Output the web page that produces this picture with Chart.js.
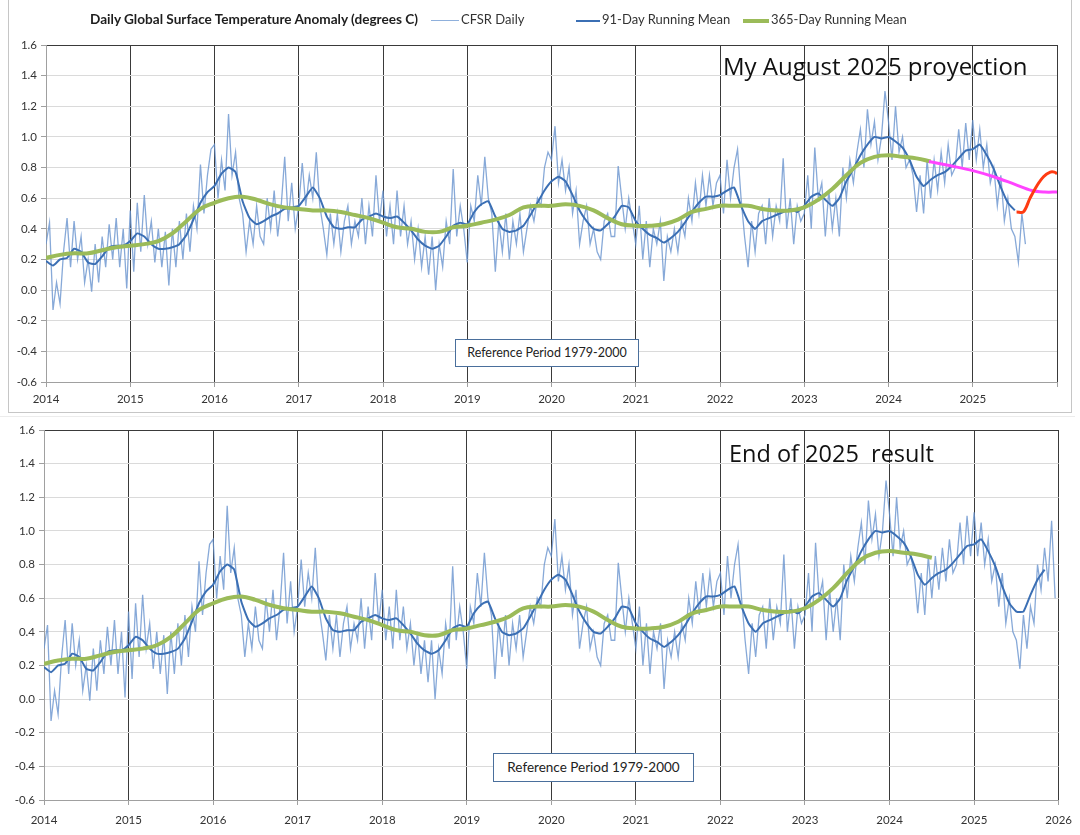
<!DOCTYPE html>
<html>
<head>
<meta charset="utf-8">
<script src="https://cdn.jsdelivr.net/npm/chart.js@4.4.1/dist/chart.umd.min.js"></script>
<style>
  body { margin: 0; background: #fff; width: 1080px; height: 835px; overflow: hidden; position: relative; font-family: Lato, "Open Sans", sans-serif; }
  .wrap { position: absolute; left: 0; width: 1080px; }
  #topFrame { position: absolute; left: 8px; top: -2px; width: 1062px; height: 413px; border: 1px solid #c6c6c6; }
  #bottomRule { position: absolute; left: 0; top: 416px; width: 1075px; height: 1px; background: #ececec; }
  .title { position: absolute; left: 90px; top: 11px; font-weight: bold; font-size: 13.6px; color: #1e1e1e; white-space: nowrap; }
  .legend { position: absolute; top: 11px; font-size: 13px; color: #333; white-space: nowrap; }
  .legend span.line { display: inline-block; vertical-align: middle; margin-right: 2px; }
  .note { position: absolute; font-family: "Open Sans", sans-serif; color: #111; white-space: pre; }
  .refbox { position: absolute; background: #fff; border: 1px solid #4a6f9c; font-size: 12.5px; color: #222; white-space: nowrap; text-align: center; }
</style>
</head>
<body>
<div id="topFrame"></div>
<div id="bottomRule"></div>
<div class="wrap" style="top:0;height:412px"><canvas id="topChart"></canvas></div>
<div class="wrap" style="top:418px;height:417px"><canvas id="bottomChart"></canvas></div>

<div class="title">Daily Global Surface Temperature Anomaly (degrees C)</div>
<div class="legend" style="left:431px"><span class="line" style="width:28px;height:1px;background:#8fb0dc"></span>CFSR Daily</div>
<div class="legend" style="left:576px"><span class="line" style="width:24px;height:2px;background:#3b6fb4"></span>91-Day Running Mean</div>
<div class="legend" style="left:743px"><span class="line" style="width:26px;height:4px;background:#9bbb59"></span>365-Day Running Mean</div>

<div class="note" style="left:723px;top:49px;font-size:24px">My August 2025 proyection</div>
<div class="note" style="left:729px;top:437px;font-size:23.5px">End of 2025  result</div>

<div class="refbox" style="left:455px;top:339px;width:182px;height:26px;line-height:26px">Reference Period 1979-2000</div>
<div class="refbox" style="left:493px;top:753px;width:199px;height:27px;line-height:27px;font-size:13.5px">Reference Period 1979-2000</div>

<script>
const START_YEAR = 2014;
const END_YEAR = 2026;

// CFSR daily anomaly, sampled twice a month (24 per year)
const dailyPerYear = 24;
const dailyValues = [
  0.30, 0.44, -0.13, 0.05, -0.09, 0.25, 0.47, 0.15, 0.45, 0.20, 0.35, 0.05, 0.20, -0.01, 0.30, 0.05, 0.35, 0.15, 0.43, 0.20, 0.47, 0.15, 0.40, 0.01, // 2014
  0.52, 0.12, 0.57, 0.25, 0.62, 0.30, 0.45, 0.18, 0.40, 0.15, 0.38, 0.03, 0.40, 0.15, 0.45, 0.20, 0.50, 0.25, 0.55, 0.40, 0.82, 0.50, 0.75, 0.92, // 2015
  0.95, 0.60, 0.85, 0.65, 1.15, 0.75, 0.90, 0.60, 0.50, 0.25, 0.45, 0.30, 0.55, 0.35, 0.30, 0.60, 0.40, 0.65, 0.35, 0.55, 0.87, 0.45, 0.70, 0.40, // 2016
  0.55, 0.83, 0.55, 0.75, 0.60, 0.90, 0.55, 0.40, 0.23, 0.50, 0.30, 0.50, 0.25, 0.45, 0.55, 0.30, 0.45, 0.35, 0.60, 0.30, 0.55, 0.35, 0.75, 0.45, // 2017
  0.65, 0.35, 0.55, 0.30, 0.65, 0.35, 0.55, 0.30, 0.45, 0.20, 0.40, 0.15, 0.35, 0.10, 0.35, 0.00, 0.30, 0.15, 0.45, 0.30, 0.79, 0.35, 0.55, 0.40, // 2018
  0.18, 0.55, 0.45, 0.75, 0.55, 0.87, 0.60, 0.50, 0.12, 0.45, 0.25, 0.50, 0.20, 0.45, 0.30, 0.50, 0.25, 0.40, 0.55, 0.45, 0.60, 0.55, 0.80, 0.90, // 2019
  0.85, 1.07, 0.70, 0.85, 0.65, 0.80, 0.50, 0.65, 0.30, 0.45, 0.55, 0.30, 0.40, 0.25, 0.20, 0.45, 0.50, 0.35, 0.35, 0.81, 0.60, 0.40, 0.60, 0.45, // 2020
  0.30, 0.55, 0.20, 0.45, 0.15, 0.40, 0.30, 0.45, 0.06, 0.35, 0.25, 0.40, 0.25, 0.45, 0.35, 0.60, 0.45, 0.70, 0.50, 0.75, 0.55, 0.75, 0.55, 0.70, // 2021
  0.75, 0.50, 0.85, 0.60, 0.80, 0.92, 0.60, 0.35, 0.15, 0.45, 0.25, 0.50, 0.55, 0.30, 0.60, 0.35, 0.55, 0.45, 0.86, 0.40, 0.60, 0.30, 0.55, 0.45, // 2022
  0.50, 0.75, 0.40, 0.93, 0.60, 0.70, 0.35, 0.65, 0.40, 0.60, 0.35, 0.80, 0.60, 0.85, 0.70, 0.90, 1.05, 0.80, 1.18, 0.95, 1.10, 0.85, 1.00, 1.30, // 2023
  1.10, 0.85, 1.20, 0.90, 1.00, 0.80, 0.85, 0.75, 0.51, 0.75, 0.50, 0.85, 0.60, 0.85, 0.65, 0.90, 0.70, 0.95, 0.75, 0.80, 1.05, 0.80, 1.09, 0.85, // 2024
  1.11, 0.85, 1.05, 0.80, 0.95, 0.70, 0.80, 0.55, 0.75, 0.45, 0.60, 0.40, 0.35, 0.18, 0.50, 0.30, 0.55, 0.45, 0.80, 0.65, 0.90, 0.70, 1.06, 0.60  // 2025
];
const topDailyCount = 280; // August 2025 cut-off

// 91-day running mean, monthly
const mean91PerYear = 12;
const mean91Values = [
  0.19, 0.16, 0.20, 0.21, 0.27, 0.25, 0.18, 0.17, 0.22, 0.28, 0.29, 0.29, // 2014
  0.32, 0.37, 0.35, 0.30, 0.27, 0.27, 0.28, 0.30, 0.36, 0.46, 0.57, 0.64, // 2015
  0.68, 0.76, 0.80, 0.77, 0.58, 0.47, 0.43, 0.45, 0.48, 0.50, 0.53, 0.54, // 2016
  0.55, 0.61, 0.67, 0.60, 0.48, 0.41, 0.40, 0.41, 0.41, 0.46, 0.48, 0.50, // 2017
  0.48, 0.47, 0.48, 0.44, 0.39, 0.33, 0.29, 0.27, 0.29, 0.35, 0.42, 0.44, // 2018
  0.43, 0.51, 0.56, 0.58, 0.48, 0.40, 0.38, 0.39, 0.42, 0.49, 0.57, 0.65, // 2019
  0.71, 0.74, 0.71, 0.62, 0.52, 0.45, 0.40, 0.39, 0.43, 0.48, 0.55, 0.54, // 2020
  0.45, 0.40, 0.36, 0.34, 0.31, 0.34, 0.38, 0.44, 0.51, 0.57, 0.61, 0.61, // 2021
  0.62, 0.65, 0.67, 0.55, 0.45, 0.40, 0.45, 0.47, 0.49, 0.51, 0.53, 0.51, // 2022
  0.55, 0.61, 0.63, 0.59, 0.55, 0.60, 0.71, 0.79, 0.88, 0.95, 1.00, 0.99, // 2023
  1.00, 0.97, 0.93, 0.85, 0.74, 0.68, 0.72, 0.75, 0.77, 0.81, 0.86, 0.91, // 2024
  0.92, 0.95, 0.88, 0.79, 0.67, 0.57, 0.52, 0.52, 0.62, 0.71, 0.77        // 2025
];
const topMean91Count = 139; // through mid 2025

// 365-day running mean, every two months
const mean365PerYear = 6;
const mean365Values = [
  0.21, 0.23, 0.24, 0.24, 0.26, 0.28, // 2014
  0.29, 0.30, 0.32, 0.37, 0.45, 0.53, // 2015
  0.57, 0.60, 0.61, 0.59, 0.56, 0.54, // 2016
  0.53, 0.52, 0.52, 0.51, 0.49, 0.47, // 2017
  0.44, 0.41, 0.40, 0.38, 0.38, 0.41, // 2018
  0.42, 0.44, 0.46, 0.49, 0.54, 0.55, // 2019
  0.55, 0.56, 0.55, 0.52, 0.47, 0.43, // 2020
  0.42, 0.42, 0.43, 0.46, 0.51, 0.53, // 2021
  0.55, 0.55, 0.55, 0.53, 0.52, 0.52, // 2022
  0.54, 0.59, 0.66, 0.75, 0.83, 0.87, // 2023
  0.88, 0.87, 0.86, 0.84              // 2024
];

// August 2025 projection (top panel only)
const proj91Years  = [2025.52, 2025.60, 2025.68, 2025.76, 2025.84, 2025.92, 2025.97, 2026.0];
const proj91Values = [0.51, 0.51, 0.60, 0.68, 0.74, 0.77, 0.77, 0.76];
const proj365Years  = [2024.48, 2024.75, 2025.0, 2025.25, 2025.5, 2025.7, 2025.85, 2026.0];
const proj365Values = [0.84, 0.81, 0.78, 0.74, 0.69, 0.65, 0.64, 0.64];

const yMin = -0.6, yMax = 1.6, yStep = 0.2;

function series(values, perYear) {
  return values.map((v, i) => ({ x: START_YEAR + i / perYear, y: v }));
}
function pairs(xs, ys) {
  return xs.map((x, i) => ({ x, y: ys[i] }));
}

const tickFont = { family: "Lato, 'Open Sans', sans-serif", size: 11.5 };

function baseDatasets(dailyCount, mean91Count) {
  return [
    { label: "365-Day Running Mean", data: series(mean365Values, mean365PerYear),
      borderColor: "#9bbb59", borderWidth: 4, tension: 0.4, order: 2 },
    { label: "91-Day Running Mean", data: series(mean91Values.slice(0, mean91Count), mean91PerYear),
      borderColor: "#3b6fb4", borderWidth: 2, tension: 0.15, order: 3 },
    { label: "CFSR Daily", data: series(dailyValues.slice(0, dailyCount), dailyPerYear),
      borderColor: "rgba(105,148,206,0.8)", borderWidth: 1.3, tension: 0, order: 4 }
  ];
}

function makeOptions(pad, yWidth, xHeight, xPad, showLastYear) {
  return {
    responsive: true,
    maintainAspectRatio: false,
    animation: false,
    layout: { padding: pad },
    plugins: { legend: { display: false }, tooltip: { enabled: false } },
    elements: { point: { radius: 0 } },
    scales: {
      x: {
        type: "linear", min: START_YEAR, max: END_YEAR,
        afterFit: s => { s.height = xHeight; },
        ticks: { stepSize: 1, font: tickFont, color: "#333", maxRotation: 0, padding: xPad,
                 callback: v => (v === END_YEAR && !showLastYear) ? "" : String(v) },
        grid: { color: c => c.tick && c.tick.value === START_YEAR ? "rgba(0,0,0,0)" : "#3a3a3a",
                tickColor: "#a0a0a0", tickLength: 5, lineWidth: 1 },
        border: { color: "#a0a0a0", width: 1 }
      },
      y: {
        min: yMin, max: yMax,
        afterFit: s => { s.width = yWidth; },
        ticks: { stepSize: yStep, font: tickFont, color: "#333", padding: 4,
                 callback: v => Number(v).toFixed(1) },
        grid: { color: c => c.tick && c.tick.value > yMax - 0.05 ? "#3a3a3a" : "#dadada",
                tickColor: "#a0a0a0", tickLength: 5 },
        border: { color: "#a0a0a0", width: 1 }
      }
    }
  };
}

const topDatasets = [
  { label: "Projected 91-Day", data: pairs(proj91Years, proj91Values),
    borderColor: "#ff3b12", borderWidth: 3, tension: 0.35, order: 1 },
  { label: "Projected 365-Day", data: pairs(proj365Years, proj365Values),
    borderColor: "#ff44ff", borderWidth: 3, tension: 0.35, order: 1 }
].concat(baseDatasets(topDailyCount, topMean91Count));

new Chart(document.getElementById("topChart"), {
  type: "line",
  data: { datasets: topDatasets },
  options: makeOptions({ left: 0, right: 23, top: 45, bottom: 0 }, 46, 30, 5, false)
});

new Chart(document.getElementById("bottomChart"), {
  type: "line",
  data: { datasets: baseDatasets(dailyValues.length, mean91Values.length) },
  options: makeOptions({ left: 0, right: 20, top: 12, bottom: 0 }, 44, 35, 8, true)
});
</script>
</body>
</html>
